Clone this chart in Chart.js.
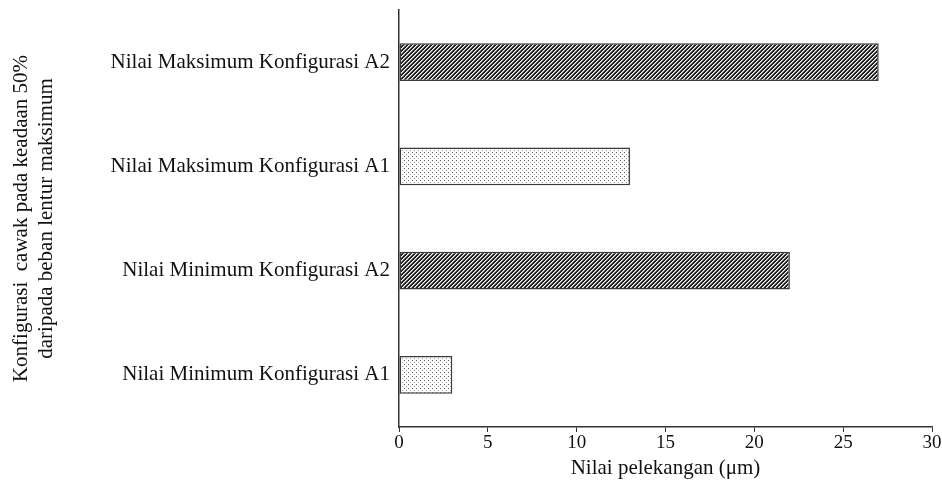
<!DOCTYPE html>
<html>
<head>
<meta charset="utf-8">
<script src="https://cdn.jsdelivr.net/npm/chart.js@4"></script>
<style>
  html, body { margin: 0; padding: 0; background: #fff; }
  #wrap { width: 942px; height: 492px; }
</style>
</head>
<body>
<div id="wrap"><canvas id="chart" width="942" height="492"></canvas></div>
<script>
const categories = [
    'Nilai Maksimum Konfigurasi A2',
    'Nilai Maksimum Konfigurasi A1',
    'Nilai Minimum Konfigurasi A2',
    'Nilai Minimum Konfigurasi A1'
];
const values = [27, 13, 22, 3];
const xTicks = [0, 5, 10, 15, 20, 25, 30];

// small canvas patterns imitating the print hatching
function hatchPattern() {
    const c = document.createElement('canvas');
    c.width = 4; c.height = 4;
    const g = c.getContext('2d');
    g.fillStyle = '#a0a0a0';
    g.fillRect(0, 0, 4, 4);
    g.fillStyle = '#1e1e1e';
    for (let i = 0; i < 4; i++) {
        g.fillRect((3 - i) % 4, i, 1, 1);
        g.fillRect((4 - i) % 4, i, 1, 1);
    }
    g.fillStyle = '#f4f4f4';
    for (let i = 0; i < 4; i++) g.fillRect((5 - i) % 4, i, 1, 1);
    g.fillStyle = '#2a2a2a';
    g.fillRect(2, 2, 1, 1);
    return g.createPattern(c, 'repeat');
}

function dotPattern() {
    const c = document.createElement('canvas');
    c.width = 4; c.height = 4;
    const g = c.getContext('2d');
    g.fillStyle = '#ffffff';
    g.fillRect(0, 0, 4, 4);
    g.fillStyle = '#555555';
    g.fillRect(0, 0, 1, 1);
    g.fillStyle = '#9a9a9a';
    g.fillRect(2, 2, 1, 1);
    return g.createPattern(c, 'repeat');
}

const dark = hatchPattern();
const light = dotPattern();
const fills = categories.map(c => c.endsWith('A2') ? dark : light);

const ctx = document.getElementById('chart').getContext('2d');
const chart = new Chart(ctx, {
    type: 'bar',
    data: {
        labels: categories,
        datasets: [{
            data: values,
            backgroundColor: fills,
            borderColor: '#3a3a3a',
            borderWidth: 1.5,
            borderSkipped: false,
            barPercentage: 0.6,
            categoryPercentage: 0.6
        }]
    },
    options: {
        indexAxis: 'y',
        responsive: false,
        animation: false,
        layout: { padding: { top: 10, right: 10, left: 0, bottom: 11 } },
        plugins: {
            legend: { display: false },
            tooltip: { enabled: false }
        },
        scales: {
            x: {
                min: 0,
                max: 30,
                afterBuildTicks: axis => { axis.ticks = xTicks.map(v => ({ value: v })); },
                border: { display: true, color: '#333', width: 1.5 },
                grid: { drawOnChartArea: false, drawTicks: true, tickLength: 5, color: '#333' },
                ticks: {
                    color: '#111',
                    font: { family: 'Liberation Serif', size: 19 },
                    padding: 0,
                    maxRotation: 0
                },
                title: {
                    display: true,
                    text: 'Nilai pelekangan (μm)',
                    color: '#111',
                    font: { family: 'Liberation Serif', size: 21 },
                    padding: { top: 2, bottom: 0 }
                },
                afterFit: scale => { scale.height = 54; }
            },
            y: {
                border: { display: true, color: '#333', width: 1.5 },
                grid: { display: false },
                ticks: {
                    color: '#111',
                    font: { family: 'Liberation Serif', size: 21 },
                    padding: 1
                },
                title: {
                    display: true,
                    text: ['Konfigurasi  cawak pada keadaan 50%', 'daripada beban lentur maksimum'],
                    color: '#111',
                    font: { family: 'Liberation Serif', size: 21, lineHeight: 1.2 },
                    padding: { top: 9, bottom: 0 }
                },
                afterFit: scale => {
                    scale.width = 399;
                    scale.paddingTop = 0;
                    scale.paddingBottom = 0;
                }
            }
        }
    }
});
</script>
</body>
</html>
